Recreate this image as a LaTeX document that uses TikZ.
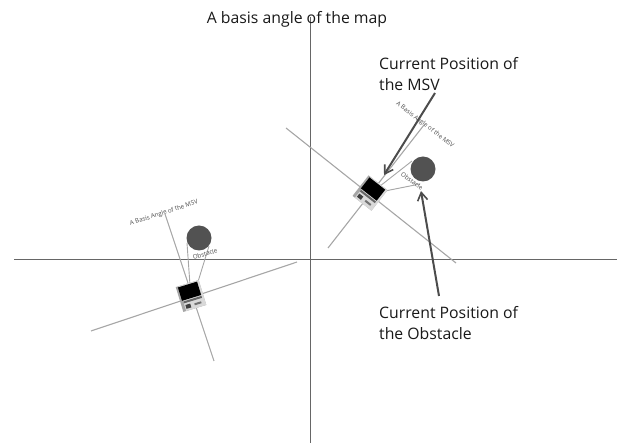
\documentclass[tikz,border=0pt]{standalone}
\usepackage{fontspec}
\setmainfont{Open Sans}
\usetikzlibrary{arrows.meta}
\tikzset{
  axis/.style={draw=black!60,line width=0.9pt},
  grayline/.style={draw=black!35,line width=1.1pt},
  thinline/.style={draw=black!35,line width=0.9pt},
  pointer/.style={draw=black!70,line width=2pt,-{Straight Barb[length=8pt,width=10pt,line width=1.6pt]}},
  obstacle/.style={circle,fill=black!68,draw=none,minimum size=25pt,inner sep=0pt},
  caption/.style={font=\fontsize{15.8}{21}\selectfont,text=black!90,align=left,anchor=north west,inner sep=0pt},
  tiny/.style={font=\fontsize{6.2}{7}\selectfont,text=black!70,inner sep=0pt},
  msv/.pic={
    \fill[black!35] (-12,-13) rectangle (12,13);
    \fill[black!15] (-9,-13) rectangle (12,13);
    \fill[black] (-10,-12) rectangle (10,2);
    \fill[black!60] (-9,3) rectangle (10,5);
    \fill[black!75] (-8,7) rectangle (-3,11);
    \fill[black!55] (1,8) rectangle (8,10);
  }
}
\begin{document}
\begin{tikzpicture}[x=1pt,y=-1pt]
\useasboundingbox (0,0) rectangle (619,443);
\coordinate (hl) at (14,259); \coordinate (hr) at (617,259);
\coordinate (vt) at (310,17); \coordinate (vb) at (310,443);
\draw[axis] (hl) -- (hr);
\draw[axis] (vt) -- (vb);
% left MSV
\coordinate (L) at (191,296);
\coordinate (Lb1) at (165,214); \coordinate (Lb2) at (214,361);
\coordinate (Lc1) at (91,331); \coordinate (Lc2) at (297,262);
\draw[grayline] (Lb1) -- (Lb2);
\draw[grayline] (Lc1) -- (Lc2);
\node[obstacle] (LO) at (199,238) {};
\coordinate (Lt1) at (187,243); \coordinate (Lt2) at (209,246);
\draw[thinline] (Lt1) -- (190,285);
\draw[thinline] (Lt2) -- (197,285);
\pic[rotate=17,transform shape] at (L) {msv};
\node[tiny,rotate=18] (Lt) at (164,213) {A Basis Angle of the MSV};
\node[tiny,rotate=16] (Lo) at (205,254) {Obstacle};
% right MSV
\coordinate (R) at (370,193);
\coordinate (Rb1) at (424,125); \coordinate (Rb2) at (328,248);
\coordinate (Rc1) at (286,128); \coordinate (Rc2) at (456,263);
\draw[grayline] (Rb1) -- (Rb2);
\draw[grayline] (Rc1) -- (Rc2);
\node[obstacle] (RO) at (423,169) {};
\coordinate (Rt1) at (412,161); \coordinate (Rt2) at (420,184);
\draw[thinline] (Rt1) -- (375,190);
\draw[thinline] (Rt2) -- (375,193);
\pic[rotate=-38,transform shape] at (R) {msv};
\node[tiny,rotate=-37.8] (Rt) at (425,125) {A Basis Angle of the MSV};
\node[tiny,rotate=-35] (Ro) at (412,181) {Obstacle};
% captions
\node[caption,anchor=north] (T0) at (297,11) {A basis angle of the map};
\node[caption] (T1) at (379,57) {Current Position of\\the MSV};
\node[caption] (T2) at (379,306) {Current Position of\\the Obstacle};
\coordinate (A1) at (435,93); \coordinate (A1e) at (384,175);
\coordinate (A2) at (439,296); \coordinate (A2e) at (421,191);
\draw[pointer] (A1) -- (A1e);
\draw[pointer] (A2) -- (A2e);
\end{tikzpicture}
\end{document}
